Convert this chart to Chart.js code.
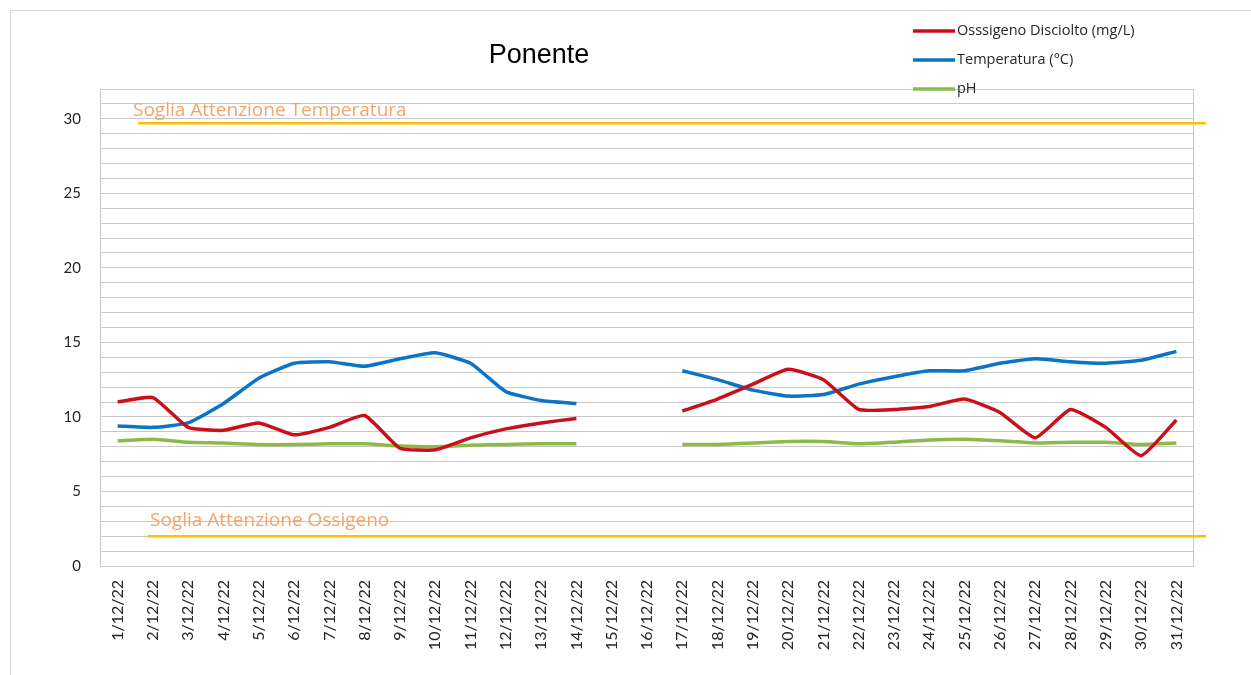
<!DOCTYPE html>
<html>
<head>
<meta charset="utf-8">
<script src="https://cdn.jsdelivr.net/npm/chart.js@4"></script>
<style>
  body { margin: 0; background: #fff; }
  #wrap { width: 1251px; height: 675px; position: relative; }
</style>
</head>
<body>
<div id="wrap"><canvas id="chart" width="1251" height="675"></canvas></div>
<script>
// Ponente - dicembre 2022
const labels = ['1/12/22', '2/12/22', '3/12/22', '4/12/22', '5/12/22', '6/12/22', '7/12/22', '8/12/22',
  '9/12/22', '10/12/22', '11/12/22', '12/12/22', '13/12/22', '14/12/22', '15/12/22', '16/12/22',
  '17/12/22', '18/12/22', '19/12/22', '20/12/22', '21/12/22', '22/12/22', '23/12/22', '24/12/22',
  '25/12/22', '26/12/22', '27/12/22', '28/12/22', '29/12/22', '30/12/22', '31/12/22'];

const ossigeno = [11.0, 11.3, 9.3, 9.1, 9.6, 8.8, 9.3, 10.1, 7.9, 7.8, 8.6, 9.2, 9.6, 9.9, null, null,
  10.4, 11.2, 12.2, 13.2, 12.5, 10.5, 10.5, 10.7, 11.2, 10.3, 8.6, 10.5, 9.3, 7.4, 9.8];

const temperatura = [9.4, 9.3, 9.6, 10.9, 12.6, 13.6, 13.7, 13.4, 13.9, 14.3, 13.6, 11.7, 11.1, 10.9, null, null,
  13.1, 12.5, 11.8, 11.4, 11.5, 12.2, 12.7, 13.1, 13.1, 13.6, 13.9, 13.7, 13.6, 13.8, 14.4];

const ph = [8.4, 8.5, 8.3, 8.25, 8.15, 8.15, 8.2, 8.2, 8.05, 8.0, 8.1, 8.15, 8.2, 8.2, null, null,
  8.15, 8.15, 8.25, 8.35, 8.35, 8.2, 8.3, 8.45, 8.5, 8.4, 8.25, 8.3, 8.3, 8.15, 8.25];

// soglie di attenzione
const sogliaTemperatura = 29.7;
const sogliaOssigeno = 2.0;

const seriesNames = ['Osssigeno Disciolto (mg/L)', 'Temperatura (°C)', 'pH'];
const seriesColors = ['#c8101a', '#0c74c4', '#8fb84a'];

// frame, title, legend and threshold lines
const decorations = {
  id: 'decorations',
  beforeDraw(chart) {
    const c = chart.ctx;
    c.save();
    c.strokeStyle = '#d9d9d9';
    c.lineWidth = 1;
    c.beginPath();
    c.moveTo(10.5, 675); c.lineTo(10.5, 10.5); c.lineTo(1251, 10.5);
    c.stroke();
    c.restore();
  },
  beforeDatasetsDraw(chart) {
    const c = chart.ctx;
    const a = chart.chartArea;
    const y = chart.scales.y;
    c.save();
    // plot box
    c.strokeStyle = '#c8c8c8';
    c.lineWidth = 1;
    c.strokeRect(a.left + 0.5, a.top + 0.5, a.right - a.left - 1, a.bottom - a.top);

    // thresholds
    c.strokeStyle = '#ffc000';
    c.lineWidth = 2.5;
    const yt = y.getPixelForValue(sogliaTemperatura);
    const yo = y.getPixelForValue(sogliaOssigeno);
    c.beginPath(); c.moveTo(a.left + 38, yt); c.lineTo(a.right + 12, yt); c.stroke();
    c.beginPath(); c.moveTo(a.left + 48, yo); c.lineTo(a.right + 12, yo); c.stroke();

    c.fillStyle = '#f4a46a';
    c.font = '19px "Open Sans"';
    c.textBaseline = 'middle';
    c.fillText('Soglia Attenzione Temperatura', a.left + 33, yt - 13);
    c.fillText('Soglia Attenzione Ossigeno', a.left + 50, yo - 16);
    c.restore();
  },
  afterDraw(chart) {
    const c = chart.ctx;
    c.save();
    c.fillStyle = '#000';
    c.font = '27px "Liberation Sans"';
    c.textAlign = 'center';
    c.textBaseline = 'middle';
    c.fillText('Ponente', 539, 56);

    c.font = '14.5px "Open Sans"';
    c.textAlign = 'left';
    seriesNames.forEach((name, i) => {
      const ly = 31 + i * 29;
      c.strokeStyle = seriesColors[i];
      c.lineWidth = 3.5;
      c.beginPath(); c.moveTo(913, ly); c.lineTo(955, ly); c.stroke();
      c.fillStyle = '#262626';
      c.fillText(name, 957, ly);
    });
    c.restore();
  }
};

new Chart(document.getElementById('chart'), {
  type: 'line',
  data: {
    labels: labels,
    datasets: [
      { label: seriesNames[0], data: ossigeno, borderColor: seriesColors[0] },
      { label: seriesNames[1], data: temperatura, borderColor: seriesColors[1] },
      { label: seriesNames[2], data: ph, borderColor: seriesColors[2] }
    ].map(d => Object.assign(d, { borderWidth: 3.5, pointRadius: 0, tension: 0.15, spanGaps: false, fill: false }))
  },
  options: {
    responsive: false,
    animation: false,
    layout: { padding: { top: 89, right: 57, left: 0, bottom: 0 } },
    plugins: { legend: { display: false }, tooltip: { enabled: false } },
    scales: {
      x: {
        offset: true,
        grid: { display: false },
        border: { display: false },
        ticks: {
          autoSkip: false, minRotation: 90, maxRotation: 90, padding: 6,
          color: '#262626', font: { family: 'Lato', size: 16 }
        },
        afterFit(scale) { scale.height = 109; }
      },
      y: {
        min: 0, max: 32,
        grid: { color: '#c8c8c8', drawTicks: false },
        border: { display: false },
        ticks: {
          stepSize: 1, autoSkip: false, maxTicksLimit: 50, padding: 19,
          color: '#262626', font: { family: 'Lato', size: 15 },
          callback: v => (v % 5 === 0 && v <= 30) ? v : ''
        },
        afterFit(scale) { scale.width = 100; }
      }
    }
  },
  plugins: [decorations]
});
</script>
</body>
</html>
